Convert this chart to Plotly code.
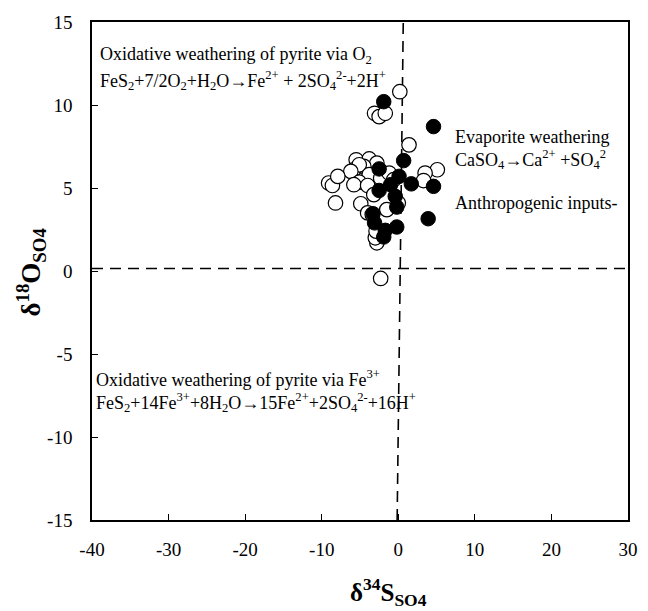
import plotly.graph_objects as go

# Open circles (delta34S, delta18O)
open_x = [0.2, -3.1, -2.5, -1.7, 1.4, 5.1, 3.5, 3.3, -5.5, -3.8, -2.8, -5.8, -4.5, -5.1,
          -6.2, -3.8, -5.1, -5.8, -4.0, -9.1, -8.6, -7.9, -8.2, -4.9, -3.2, -1.7, -2.3,
          -1.2, -4.0, -3.4, -2.8, -3.0, -2.9, -2.3, -0.6, -1.5, 0.0]
open_y = [10.8, 9.5, 9.3, 9.5, 7.6, 6.1, 5.9, 5.45, 6.7, 6.75, 6.5, 6.1, 6.3, 6.4,
          6.0, 5.8, 5.35, 5.2, 5.15, 5.3, 5.15, 5.7, 4.1, 4.05, 4.6, 5.4, 5.6,
          5.9, 3.5, 3.4, 1.7, 2.0, 2.4, -0.45, 5.5, 3.7, 4.1]

# Filled circles
filled_x = [-1.9, 4.6, 0.7, -2.5, 0.1, -1.0, 1.7, 4.6, -2.5, -0.4, -0.2, -3.3,
            3.9, -3.1, -1.7, -0.2, -1.9]
filled_y = [10.2, 8.7, 6.65, 6.15, 5.7, 5.2, 5.25, 5.1, 4.85, 4.5, 3.85, 3.45,
            3.15, 2.9, 2.45, 2.65, 2.05]

# Dashed reference lines
hline_x = [-40, 30]
hline_y = [0.15, 0.15]
vline_x = [-0.15, 0.65]
vline_y = [-15, 15]

x_ticks = [-40, -30, -20, -10, 0, 10, 20, 30]
x_labels = ["-40", "-30", "-20", "-10", "0", "10", "20", "30"]
y_ticks = [-15, -10, -5, 0, 5, 10, 15]
y_labels = ["-15", "-10", "-5", "0", "5", "10", "15"]

FONT = "Times New Roman, Liberation Serif, serif"

fig = go.Figure()
fig.add_trace(go.Scatter(x=hline_x, y=hline_y, mode="lines",
                         line=dict(color="black", width=1.6, dash="11px,7px"),
                         showlegend=False, hoverinfo="skip"))
fig.add_trace(go.Scatter(x=vline_x, y=vline_y, mode="lines",
                         line=dict(color="black", width=1.6, dash="11px,7px"),
                         showlegend=False, hoverinfo="skip"))
fig.add_trace(go.Scatter(x=open_x, y=open_y, mode="markers",
                         marker=dict(size=14.5, color="white",
                                     line=dict(color="black", width=1.2)),
                         showlegend=False))
fig.add_trace(go.Scatter(x=filled_x, y=filled_y, mode="markers",
                         marker=dict(size=14.5, color="black",
                                     line=dict(color="black", width=1)),
                         showlegend=False))

ann_font = dict(family=FONT, size=18, color="black")
texts = [
    (-39.2, 13.0, "Oxidative weathering of pyrite via O<sub>2</sub>"),
    (-39.2, 11.5, "FeS<sub>2</sub>+7/2O<sub>2</sub>+H<sub>2</sub>O→Fe<sup>2+</sup> + 2SO<sub>4</sub><sup>2-</sup>+2H<sup>+</sup>"),
    (7.1, 8.07, "Evaporite weathering"),
    (7.1, 6.69, "CaSO<sub>4</sub>→Ca<sup>2+</sup> +SO<sub>4</sub><sup>2</sup>"),
    (7.1, 4.1, "Anthropogenic inputs-"),
    (-39.7, -6.45, "Oxidative weathering of pyrite via Fe<sup>3+</sup>"),
    (-39.7, -7.9, "FeS<sub>2</sub>+14Fe<sup>3+</sup>+8H<sub>2</sub>O→15Fe<sup>2+</sup>+2SO<sub>4</sub><sup>2-</sup>+16H<sup>+</sup>"),
]
for x, y, t in texts:
    fig.add_annotation(x=x, y=y, xref="x", yref="y", text=t, showarrow=False,
                       xanchor="left", yanchor="middle", font=ann_font)

# Axis titles
fig.add_annotation(x=(391 - 92) / (633 - 92), y=-(592 - 520) / (520 - 22),
                   xref="paper", yref="paper",
                   text="<b>δ<sup>34</sup>S<sub>SO4</sub></b>", showarrow=False,
                   xanchor="center", yanchor="middle",
                   font=dict(family=FONT, size=25, color="black"))
fig.add_annotation(x=-(92 - 30) / (633 - 92), y=(520 - 272) / (520 - 22),
                   xref="paper", yref="paper",
                   text="<b>δ<sup>18</sup>O<sub>SO4</sub></b>", showarrow=False,
                   textangle=-90, xanchor="center", yanchor="middle",
                   font=dict(family=FONT, size=27, color="black"))

axis_common = dict(showgrid=False, zeroline=False, showline=True, linecolor="black",
                   linewidth=1.6, mirror=True, ticks="inside", ticklen=6,
                   tickwidth=1.3, tickcolor="black",
                   tickfont=dict(family=FONT, size=19, color="black"))
fig.update_xaxes(range=[-40, 30], tickvals=x_ticks, ticktext=x_labels,
                 ticklabelstandoff=11, **axis_common)
fig.update_yaxes(range=[-15, 15], tickvals=y_ticks, ticktext=y_labels,
                 ticklabelstandoff=14, **axis_common)

fig.update_layout(width=648, height=611, plot_bgcolor="white", paper_bgcolor="white",
                  font=dict(family=FONT, color="black"),
                  margin=dict(l=92, r=10, t=22, b=91), showlegend=False)

fig.write_html("out.html")
